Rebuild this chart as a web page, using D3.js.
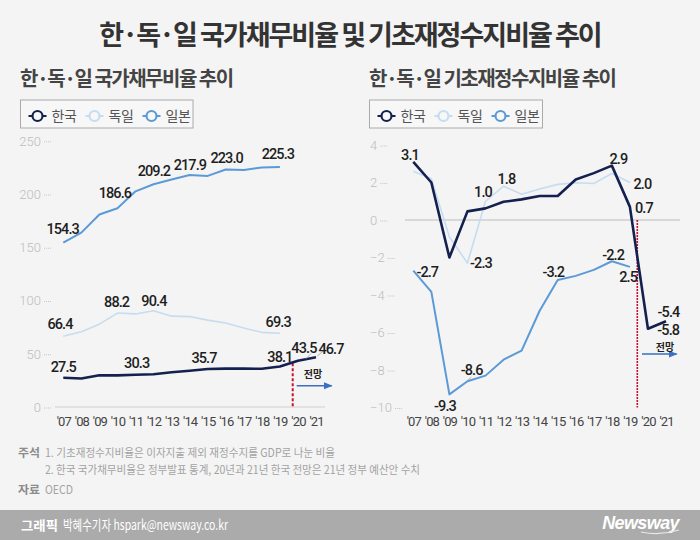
<!DOCTYPE html>
<html><head><meta charset="utf-8">
<script src="https://cdn.jsdelivr.net/npm/d3@7"></script>
<style>
html,body{margin:0;padding:0;background:#f4f4f4;}
svg{display:block;}
</style></head>
<body>
<svg id="chart" width="700" height="540"></svg>
<script>
// ---------- DATA ----------
const years = ["'07","'08","'09","'10","'11","'12","'13","'14","'15","'16","'17","'18","'19","'20","'21"];
const seriesNames = ["한국","독일","일본"];

// 국가채무비율 (% of GDP)
const debtKorea   = [27.5,26.8,29.8,29.7,30.3,30.8,32.6,34.1,35.7,36.0,36.0,35.9,38.1,43.5,46.7];
const debtGermany = [66.4,70.7,77.8,88.2,87.4,90.4,85.3,84.9,81.6,78.8,74.1,70.1,69.3];
const debtJapan   = [154.3,163.7,180.8,186.6,202.5,209.2,213.7,217.9,217.0,223.0,222.6,224.8,225.3];
const debtTicks   = [0,50,100,150,200,250];

const debtKoreaLabels   = ["27.5",null,null,null,"30.3",null,null,null,"35.7",null,null,null,"38.1","43.5","46.7"];
const debtGermanyLabels = ["66.4",null,null,"88.2",null,"90.4",null,null,null,null,null,null,"69.3"];
const debtJapanLabels   = ["154.3",null,null,"186.6",null,"209.2",null,"217.9",null,"223.0",null,null,"225.3"];

// 기초재정수지비율 (% of GDP)
const balKorea   = [3.1,2.0,-2.0,0.46,0.62,0.97,1.1,1.28,1.28,2.16,2.5,2.9,0.7,-5.8,-5.4];
const balGermany = [2.6,2.2,-0.9,-2.3,1.0,1.8,1.37,1.65,1.9,1.99,1.95,2.48,2.0];
const balJapan   = [-2.7,-3.83,-9.3,-8.6,-8.3,-7.45,-6.97,-4.84,-3.2,-2.98,-2.66,-2.2,-2.5];
const balTicks   = [-10,-8,-6,-4,-2,0,2,4];

const balKoreaLabels   = ["3.1",null,null,null,null,null,null,null,null,null,null,"2.9","0.7","-5.8","-5.4"];
const balGermanyLabels = [null,null,null,"-2.3","1.0","1.8",null,null,null,null,null,null,"2.0"];
const balJapanLabels   = ["-2.7",null,"-9.3","-8.6",null,null,null,null,"-3.2",null,null,"-2.2","2.5"];

const notes = [
  "1. 기초재정수지비율은 이자지출 제외 재정수지를 GDP로 나눈 비율",
  "2. 한국 국가채무비율은 정부발표 통계, 20년과 21년 한국 전망은 21년 정부 예산안 수치"
];

// ---------- STYLE ----------
const COLORS = {"한국":"#14204d","독일":"#c6dcf0","일본":"#5b9ad6"};
const WIDTHS = {"한국":2.6,"독일":1.6,"일본":2.0};
const KR = "'Noto Sans CJK KR','Noto Sans',sans-serif";
const NUM = "Roboto,'Noto Sans',sans-serif";

const svg = d3.select("#chart");
svg.append("rect").attr("width",700).attr("height",540).attr("fill","#f4f4f4");

const defs = svg.append("defs");
defs.append("marker").attr("id","arr").attr("viewBox","0 0 10 10").attr("refX",9).attr("refY",5)
  .attr("markerWidth",6).attr("markerHeight",6).attr("orient","auto")
  .append("path").attr("d","M0,1 L10,5 L0,9 Z").attr("fill","#3a6fc4");

// Title
svg.append("text").attr("x",350).attr("y",45).attr("text-anchor","middle")
  .attr("font-family",KR).attr("font-weight",700).attr("font-size",27).attr("letter-spacing",-2)
  .attr("fill","#333").text("한·독·일 국가채무비율 및 기초재정수지비율 추이");

function panel(opt){
  const g = svg.append("g");
  // subtitle
  g.append("text").attr("x",opt.subX).attr("y",86).attr("font-family",KR).attr("font-weight",700)
    .attr("font-size",20).attr("letter-spacing",-1.5).attr("fill","#444").text(opt.subtitle);
  // legend
  g.append("rect").attr("x",opt.legX).attr("y",100).attr("width",opt.legW).attr("height",28)
    .attr("fill","#f7f7f7").attr("stroke","#aaa").attr("stroke-width",1);
  seriesNames.forEach((n,i)=>{
    const cx = opt.legX + 17 + i*opt.legStep;
    g.append("line").attr("x1",cx-9).attr("x2",cx+9).attr("y1",116).attr("y2",116)
      .attr("stroke",COLORS[n]).attr("stroke-width",2);
    g.append("circle").attr("cx",cx).attr("cy",116).attr("r",5).attr("fill","#f7f7f7")
      .attr("stroke",COLORS[n]).attr("stroke-width",2.2);
    g.append("text").attr("x",cx+14).attr("y",121).attr("font-family",KR).attr("font-size",14)
      .attr("letter-spacing",-0.5).attr("fill","#555").text(n);
  });

  const x = opt.x, y = opt.y;
  // y axis
  const yAxis = g.append("g").attr("transform",`translate(${opt.yAxisX},0)`)
    .call(d3.axisLeft(y).tickValues(opt.ticks).tickSize(0).tickPadding(0).tickFormat(d3.format("d")));
  yAxis.select(".domain").remove();
  yAxis.selectAll("text").attr("font-family",NUM).attr("font-size",13).attr("font-weight",300)
    .attr("fill","#bdbdbd").attr("text-anchor",opt.yAnchor).attr("x",0).attr("dy","0.34em");
  yAxis.selectAll(".tick").each(function(){
    const t = d3.select(this);
    const w = t.select("text").node().getComputedTextLength();
    const x0 = opt.yAnchor==="end" ? 3 : w+3;
    t.append("line").attr("x1",x0).attr("x2",x0+8).attr("y1",0.5).attr("y2",0.5)
      .attr("stroke","#c4c4c4").attr("stroke-width",1).attr("stroke-dasharray","1,1");
  });
  // baseline / zero line
  g.append("line").attr("x1",opt.baseX1).attr("x2",opt.baseX2).attr("y1",y(0)).attr("y2",y(0))
    .attr("stroke",opt.baseColor).attr("stroke-width",1.5);
  // x axis
  const xAxis = g.append("g").attr("transform",`translate(0,${opt.xAxisY})`)
    .call(d3.axisBottom(x).tickValues(d3.range(years.length)).tickSize(0).tickPadding(10).tickFormat(i=>years[i]));
  xAxis.select(".domain").remove();
  xAxis.selectAll("text").attr("font-family",NUM).attr("font-size",13).attr("letter-spacing",-0.9).attr("fill","#444");

  // forecast marker
  g.append("line").attr("x1",x(opt.fcX)).attr("x2",x(opt.fcX)).attr("y1",opt.fcY1).attr("y2",opt.fcY2)
    .attr("stroke","#c8102e").attr("stroke-width",opt.fcW).attr("stroke-dasharray",opt.fcDash);
  g.append("line").attr("x1",x(opt.arX1)).attr("x2",x(opt.arX2)).attr("y1",opt.arY).attr("y2",opt.arY)
    .attr("stroke","#3a6fc4").attr("stroke-width",1.5).attr("marker-end","url(#arr)");
  g.append("text").attr("x",x(opt.fcTextX)).attr("y",opt.fcTextY).attr("text-anchor","middle")
    .attr("font-family",KR).attr("font-weight",700).attr("font-size",10).attr("fill","#222").text("전망");

  // lines
  const line = d3.line().x((d,i)=>x(i)).y(d=>y(d));
  ["독일","일본","한국"].forEach(n=>{
    g.append("path").datum(opt.data[n]).attr("d",line).attr("fill","none")
      .attr("stroke",COLORS[n]).attr("stroke-width",WIDTHS[n]).attr("stroke-linejoin","round");
  });

  // labels
  ["한국","독일","일본"].forEach(n=>{
    const vals = opt.data[n], labs = opt.labels[n], place = opt.place[n];
    let k = 0;
    labs.forEach((t,i)=>{
      if(t===null) return;
      const p = place[k++];
      const px = x(i), py = y(vals[i]);
      if(p[2]){
        const L = p[2];
        g.append("line").attr("x1",px+L[0]).attr("y1",py+L[1]).attr("x2",px+L[2]).attr("y2",py+L[3])
          .attr("stroke","#b5b5b5").attr("stroke-width",1);
      }
      g.append("text").attr("x",px+p[0]).attr("y",py+p[1]).attr("text-anchor","middle")
        .attr("font-family",NUM).attr("font-weight",500).attr("font-size",14.5)
        .attr("letter-spacing",-0.9).attr("fill","#1e1e1e").text(t);
    });
  });
}

// Left panel: 국가채무비율
const xL = d3.scaleLinear().domain([0,14]).range([63.3,316]);
const yL = d3.scaleLinear().domain([0,250]).range([407,140.75]);
panel({
  subX:20, subtitle:"한·독·일 국가채무비율 추이",
  legX:20.5, legW:172.5, legStep:57,
  x:xL, y:yL, ticks:debtTicks, yAxisX:41, yAnchor:"end",
  baseX1:55, baseX2:325, baseColor:"#dcdcdc", xAxisY:407,
  fcX:12.71, fcY1:yL(41), fcY2:yL(0), fcW:2, fcDash:"3,2",
  arX1:12.93, arX2:14.87, arY:yL(20), fcTextX:13.83, fcTextY:yL(27),
  data:{"한국":debtKorea,"독일":debtGermany,"일본":debtJapan},
  labels:{"한국":debtKoreaLabels,"독일":debtGermanyLabels,"일본":debtJapanLabels},
  place:{
    "한국":[[0,-5.4],[1.2,-6.4],[-3.7,-6.3],[0,-4],[6,-7.7,[8,-2,13,-7]],[15,-3.3,[1,-1,7,-6]]],
    "독일":[[-3.3,-7],[-0.8,-6.4],[0.4,-5],[-1.7,-5.9]],
    "일본":[[-0.6,-8.7],[-2.5,-10.3],[0.4,-8.2],[0.3,-4.9],[0.9,-6.2],[-2,-8.1]]
  }
});

// Right panel: 기초재정수지비율
const xR = d3.scaleLinear().domain([0,14]).range([413.3,666]);
const yR = d3.scaleLinear().domain([-10,4]).range([407.5,145]);
panel({
  subX:369, subtitle:"한·독·일 기초재정수지비율 추이",
  legX:369.5, legW:173, legStep:57,
  x:xR, y:yR, ticks:balTicks, yAxisX:370, yAnchor:"start",
  baseX1:405, baseX2:680, baseColor:"#cfcfcf", xAxisY:407,
  fcX:12.41, fcY1:yR(0), fcY2:yR(-10), fcW:1.6, fcDash:"2,1",
  arX1:12.67, arX2:14.59, arY:yR(-7.15), fcTextX:13.94, fcTextY:yR(-7.0),
  data:{"한국":balKorea,"독일":balGermany,"일본":balJapan},
  labels:{"한국":balKoreaLabels,"독일":balGermanyLabels,"일본":balJapanLabels},
  place:{
    "한국":[[-3.3,-1.9],[6.5,-2],[14,6.4],[20.3,5.75],[2.5,-3.9]],
    "독일":[[13.5,5.2],[-2.5,-4.6],[2.8,-2],[12.5,6.8]],
    "일본":[[14,6.1],[-4.4,16.6],[4.2,-6.3,[0,-1,4,-4]],[-4.4,-3.3],[1.3,-0.8],[-1.7,14.8]]
  }
});

// Notes
const nt = svg.append("g").attr("font-family",KR);
nt.append("text").attr("x",18).attr("y",457).attr("font-size",11.5).attr("font-weight",700)
  .attr("fill","#8c8c8c").attr("textLength",22).attr("lengthAdjust","spacingAndGlyphs").text("주석");
nt.append("text").attr("x",45).attr("y",457).attr("font-size",11.5).attr("fill","#a3a3a3")
  .attr("textLength",290).attr("lengthAdjust","spacingAndGlyphs").text(notes[0]);
nt.append("text").attr("x",45).attr("y",474).attr("font-size",11.5).attr("fill","#a3a3a3")
  .attr("textLength",375).attr("lengthAdjust","spacingAndGlyphs").text(notes[1]);
nt.append("text").attr("x",18).attr("y",494).attr("font-size",11.5).attr("font-weight",700)
  .attr("fill","#8c8c8c").attr("textLength",22).attr("lengthAdjust","spacingAndGlyphs").text("자료");
nt.append("text").attr("x",45).attr("y",494).attr("font-size",11.5).attr("fill","#a3a3a3")
  .attr("textLength",28).attr("lengthAdjust","spacingAndGlyphs").text("OECD");

// Footer
svg.append("rect").attr("x",0).attr("y",510).attr("width",700).attr("height",30).attr("fill","#ababab");
svg.append("text").attr("x",21).attr("y",530).attr("font-family",KR).attr("font-size",13).attr("font-weight",700)
  .attr("fill","#fff").attr("textLength",37).attr("lengthAdjust","spacingAndGlyphs").text("그래픽");
svg.append("text").attr("x",63).attr("y",530).attr("font-family",KR).attr("font-size",13.5)
  .attr("fill","#fff").attr("textLength",165).attr("lengthAdjust","spacingAndGlyphs").text("박혜수기자 hspark@newsway.co.kr");
svg.append("text").attr("x",679).attr("y",529).attr("text-anchor","end").attr("font-family","'Liberation Sans',sans-serif")
  .attr("font-style","italic").attr("font-weight",700).attr("font-size",18).attr("letter-spacing",-0.6)
  .attr("fill","#fff").text("Newsway");
svg.append("path").attr("d","M641,532 Q660,536 679,530").attr("fill","none").attr("stroke","#e8e8e8").attr("stroke-width",1.2);
</script>
</body></html>
